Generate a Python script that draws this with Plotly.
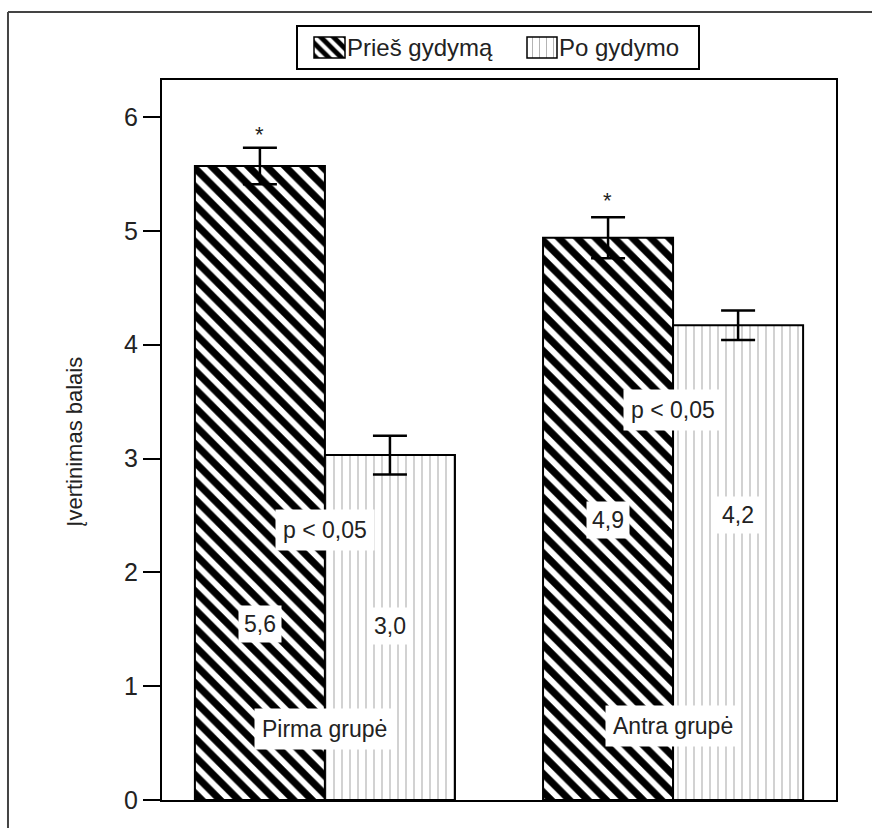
import plotly.graph_objects as go

# ---- data ----
groups = ["Pirma grupė", "Antra grupė"]
series_names = ["Prieš gydymą", "Po gydymo"]
before = [5.57, 4.94]
before_err = [0.16, 0.18]
after = [3.03, 4.17]
after_err = [0.17, 0.13]
value_labels_before = ["5,6", "4,9"]
value_labels_after = ["3,0", "4,2"]
label_y_before = [1.55, 2.46]
label_y_after = [1.53, 2.50]
pval_text = ["p < 0,05", "p < 0,05"]
pval_y = [2.37, 3.43]
star_y = [5.85, 5.27]
group_label_y = [0.62, 0.65]
y_ticks = [0, 1, 2, 3, 4, 5, 6]
y_title = "Įvertinimas balais"

FONT = "Liberation Sans, Arial, sans-serif"
TXT = "#222222"

hatch = dict(shape="\\", fgcolor="#000000", bgcolor="white", size=13, solidity=0.55, fgopacity=1)
dots = dict(shape="|", fgcolor="#b4b4b4", bgcolor="white", size=8, solidity=0.15, fgopacity=1)

fig = go.Figure()
fig.add_trace(go.Bar(
    x=groups, y=before, name=series_names[0], showlegend=False,
    marker=dict(color="white", pattern=hatch, line=dict(color="black", width=2)),
    error_y=dict(type="data", array=before_err, color="black", thickness=2.5, width=17),
))
fig.add_trace(go.Bar(
    x=groups, y=after, name=series_names[1], showlegend=False,
    marker=dict(color="white", pattern=dots, line=dict(color="black", width=2)),
    error_y=dict(type="data", array=after_err, color="black", thickness=2.5, width=17),
))

# legend drawn as a small box subplot (swatches + labels)
fig.add_trace(go.Bar(
    x=[31.5], y=[21], base=[10], width=[31], xaxis="x2", yaxis="y2", showlegend=False,
    marker=dict(color="white", pattern=dict(shape="\\", fgcolor="#000000", bgcolor="white", size=9,
                                            solidity=0.55, fgopacity=1),
                line=dict(color="black", width=1.5)), hoverinfo="skip",
))
fig.add_trace(go.Bar(
    x=[244], y=[21], base=[10], width=[30], xaxis="x2", yaxis="y2", showlegend=False,
    marker=dict(color="white", pattern=dict(shape="|", fgcolor="#b4b4b4", bgcolor="white", size=7,
                                            solidity=0.15, fgopacity=1),
                line=dict(color="black", width=1.5)), hoverinfo="skip",
))

ann = []
bw = 0.187  # half bar offset in category units
for i, g in enumerate(groups):
    common = dict(xref="x", yref="y", showarrow=False, bgcolor="white",
                  font=dict(family=FONT, size=23, color=TXT))
    ann.append(dict(x=i - bw, y=label_y_before[i], text=value_labels_before[i], borderpad=5, **common))
    ann.append(dict(x=i + bw, y=label_y_after[i], text=value_labels_after[i], borderpad=5, **common))
    ann.append(dict(x=i, y=pval_y[i], text=pval_text[i], borderpad=7, **common))
    ann.append(dict(x=i, y=group_label_y[i], text=g, borderpad=7, **common))
    ann.append(dict(x=i - bw, y=star_y[i], text="*", xref="x", yref="y", showarrow=False,
                    font=dict(family=FONT, size=22, color=TXT)))

# legend texts
ann.append(dict(x=47, y=20, xref="x2", yref="y2", text=series_names[0], xanchor="left", showarrow=False,
                font=dict(family=FONT, size=24, color=TXT)))
ann.append(dict(x=259, y=20, xref="x2", yref="y2", text=series_names[1], xanchor="left", showarrow=False,
                font=dict(family=FONT, size=24, color=TXT)))

# y-axis title
ann.append(dict(x=-0.151, y=0.459, xref="paper", yref="paper", text=y_title, textangle=-90,
                showarrow=False, font=dict(family=FONT, size=22, color=TXT)))

fig.update_layout(
    width=872, height=828,
    margin=dict(l=162, r=36, t=20, b=28),
    paper_bgcolor="white", plot_bgcolor="white",
    barmode="group", bargap=0.253, bargroupgap=0,
    showlegend=False,
    xaxis=dict(domain=[0, 1], range=[-0.468, 1.468], showticklabels=False, ticks="",
               showline=True, mirror=True, linecolor="black", linewidth=2, showgrid=False, zeroline=False),
    yaxis=dict(domain=[0, 720 / 780], range=[0, 6.325], tickvals=y_ticks, ticks="outside", ticklen=17,
               tickwidth=2, tickcolor="black", showline=True, mirror=True, linecolor="black", linewidth=2,
               showgrid=False, zeroline=False, tickfont=dict(family=FONT, size=25, color=TXT)),
    xaxis2=dict(domain=[(298 - 162) / 674, (698 - 162) / 674], range=[0, 400], anchor="y2",
                showticklabels=False, ticks="", showgrid=False, zeroline=False,
                showline=True, mirror=True, linecolor="black", linewidth=2),
    yaxis2=dict(domain=[(800 - 68) / 780, (800 - 27) / 780], range=[0, 41], anchor="x2",
                showticklabels=False, ticks="", showgrid=False, zeroline=False,
                showline=True, mirror=True, linecolor="black", linewidth=2),
    annotations=ann,
    shapes=[
        dict(type="line", xref="paper", yref="paper", x0=-0.2285, x1=1.07,
             y0=(800 - 12) / 780, y1=(800 - 12) / 780, line=dict(color="#444444", width=2)),
        dict(type="line", xref="paper", yref="paper", x0=-0.2285, x1=-0.2285,
             y0=-0.05, y1=(800 - 12) / 780, line=dict(color="#444444", width=2)),
    ],
)

fig.write_html("out.html")
